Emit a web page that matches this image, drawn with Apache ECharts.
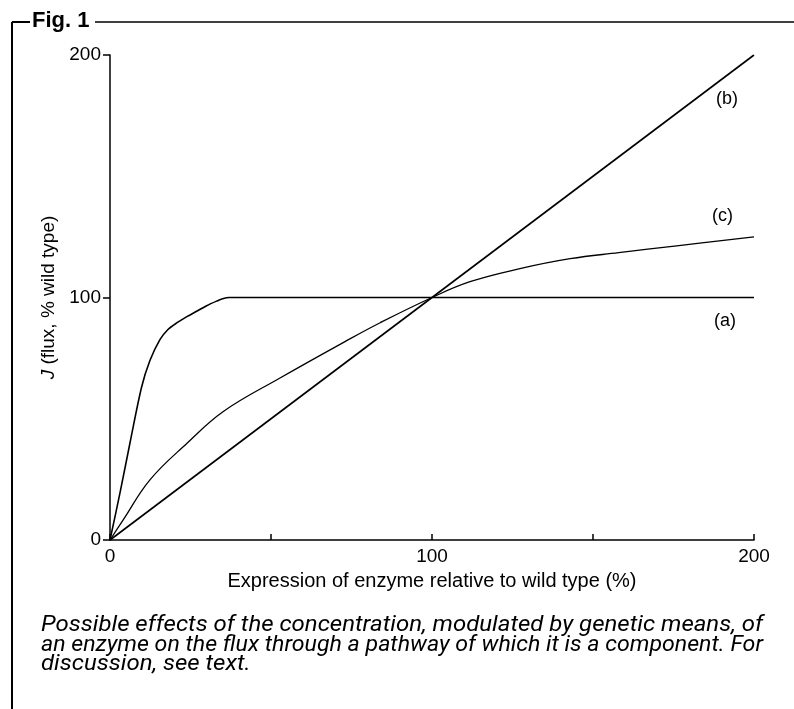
<!DOCTYPE html>
<html><head><meta charset="utf-8">
<script src="https://cdn.jsdelivr.net/npm/echarts@6/dist/echarts.min.js"></script>
<style>html,body{margin:0;padding:0;background:#fff}#c{width:794px;height:709px}</style>
</head><body><div id="c"></div>
<script>
const xTicks = [0, 50, 100, 150, 200];
const xTickLabels = ['0', '', '100', '', '200'];
const yTickLabels = ['0', '100', '200'];
const curveA = [[0,0],[3.1,19.4],[6.2,40],[9.8,63],[12.4,74],[15.5,82.6],[18,86.8],[20.7,89.5],[24,92.2],[26.9,94.3],[30,96.6],[33.1,98.5],[35,99.5],[37,100],[60,100],[100,100],[150,100],[200,100]];
const curveB = [[0,0],[200,200]];
const curveC = [[0,0],[4.1,8.3],[12.4,24.8],[24,40],[35.2,53],[52.8,66.8],[73.5,82.2],[83.9,89.6],[100,100],[111.8,106.5],[127.3,111.9],[142.9,116],[158,118.5],[176,121.3],[200,125]];
const seriesNames = ['(a)', '(b)', '(c)'];
const caption = ['Possible effects of the concentration, modulated by genetic means, of',
 'an enzyme on the flux through a pathway of which it is a component. For',
 'discussion, see text.'];

const font = '"Liberation Sans", Arial, sans-serif';
const capFont = 'italic 22px Roboto';
const ctx = document.createElement('canvas').getContext('2d');
ctx.font = capFont;
const capW = 722;
const s1 = capW / ctx.measureText(caption[0]).width;
const s2 = capW / ctx.measureText(caption[1]).width;
const capScales = [s1, s2, s1];
const capY = [625, 645, 664];

const chart = echarts.init(document.getElementById('c'));
const lineStyle = {color:'#000', width:1.6};
chart.setOption({
  animation:false,
  grid:{left:110, right:40, top:55, bottom:169},
  xAxis:{type:'value', min:0, max:200, interval:50,
    axisLine:{lineStyle:{color:'#000', width:1.5}},
    axisTick:{inside:true, length:6, lineStyle:{color:'#000', width:1.5}},
    axisLabel:{color:'#000', fontSize:19, fontFamily:font, margin:7,
      formatter:v => xTickLabels[xTicks.indexOf(v)]},
    splitLine:{show:false},
    name:'Expression of enzyme relative to wild type (%)', nameLocation:'middle', nameGap:31,
    nameTextStyle:{color:'#000', fontSize:20, fontFamily:font}
  },
  yAxis:{type:'value', min:0, max:200, interval:100,
    axisLine:{show:true, lineStyle:{color:'#000', width:1.5}},
    axisTick:{show:true, length:7, lineStyle:{color:'#000', width:1.5}},
    axisLabel:{color:'#000', fontSize:19, fontFamily:font, margin:9,
      formatter:v => yTickLabels[v/100]},
    splitLine:{show:false},
    name:'{i|J} (flux, % wild type)', nameLocation:'middle', nameGap:45, nameRotate:90,
    nameTextStyle:{color:'#000', fontSize:19, fontFamily:font, rich:{i:{fontStyle:'italic', fontSize:19, fontFamily:font, color:'#000'}}}
  },
  series:[
    {name:seriesNames[0], type:'line', data:curveA, smooth:0.3, showSymbol:false, lineStyle, z:3},
    {name:seriesNames[1], type:'line', data:curveB, showSymbol:false, lineStyle},
    {name:seriesNames[2], type:'line', data:curveC, smooth:0.4, showSymbol:false, lineStyle:{color:'#000', width:1.3}}
  ],
  graphic:[
    {type:'line', shape:{x1:12, y1:22, x2:12, y2:709}, style:{stroke:'#000', lineWidth:2}},
    {type:'line', shape:{x1:12, y1:22, x2:30, y2:22}, style:{stroke:'#000', lineWidth:2}},
    {type:'line', shape:{x1:95, y1:22, x2:794, y2:22}, style:{stroke:'#000', lineWidth:1.5}},
    {type:'text', left:32, top:10, style:{text:'Fig. 1', fontSize:22, fontWeight:'bold', fontFamily:font, fill:'#000'}},
    {type:'text', left:716, top:90, style:{text:seriesNames[1], fontSize:18, fontFamily:font, fill:'#000'}},
    {type:'text', left:712, top:207, style:{text:seriesNames[2], fontSize:18, fontFamily:font, fill:'#000'}},
    {type:'text', left:714, top:312, style:{text:seriesNames[0], fontSize:18, fontFamily:font, fill:'#000'}}
  ].concat(caption.map((t, i) => ({
    type:'text', x:41, y:capY[i], scaleX:capScales[i],
    style:{text:t, font:capFont, fill:'#000', verticalAlign:'middle', align:'left'}
  })))
});
</script></body></html>
